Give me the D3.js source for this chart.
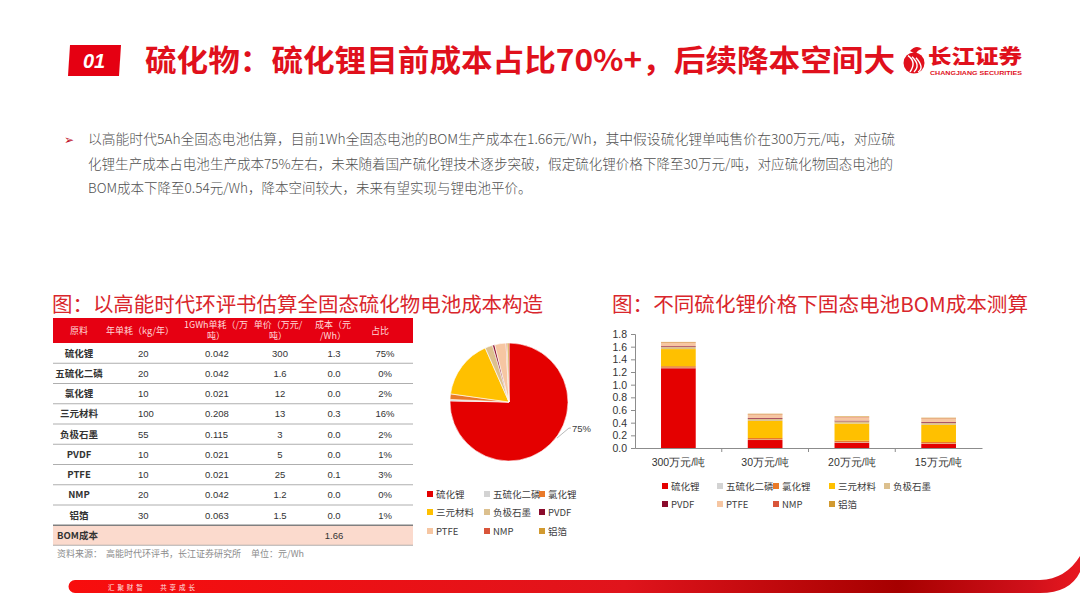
<!DOCTYPE html>
<html>
<head>
<meta charset="utf-8">
<script src="https://cdn.jsdelivr.net/npm/d3@7"></script>
<style>
  html, body { margin: 0; padding: 0; background: #fff; }
  svg { display: block; font-family: "Noto Sans CJK SC", "Noto Sans", sans-serif; }
</style>
</head>
<body>
<svg id="slide" width="1080" height="608"></svg>
<script>
// ---- data ----
const materials = ["硫化锂", "五硫化二磷", "氯化锂", "三元材料", "负极石墨", "PVDF", "PTFE", "NMP", "铝箔"];
const annualUse = ["20", "20", "10", "100", "55", "10", "10", "20", "30"];
const gwhUse = ["0.042", "0.042", "0.021", "0.208", "0.115", "0.021", "0.021", "0.042", "0.063"];
const unitPrice = ["300", "1.6", "12", "13", "3", "5", "25", "1.2", "1.5"];
const costWh = ["1.3", "0.0", "0.0", "0.3", "0.0", "0.0", "0.1", "0.0", "0.0"];
const shareLabel = ["75%", "0%", "2%", "16%", "2%", "1%", "3%", "0%", "1%"];
const bomTotal = "1.66";
const tableHeader = [["原料"], ["年单耗（kg/年）"], ["1GWh单耗（/万", "吨）"], ["单价（万元/", "吨）"], ["成本（元", "/Wh）"], ["占比"]];

// pie shares (%)
const pieShare = [75.3, 0.4, 1.5, 16.2, 2.1, 0.6, 3.1, 0.3, 0.5];

// stacked bars: BOM cost (元/Wh) by Li2S price
const priceCats = ["300万元/吨", "30万元/吨", "20万元/吨", "15万元/吨"];
const costLi2S = [1.26, 0.126, 0.084, 0.063];
const costP2S5 = [0.007, 0.007, 0.007, 0.007];
const costLiCl = [0.025, 0.025, 0.025, 0.025];
const costNCM = [0.27, 0.27, 0.27, 0.27];
const costGraphite = [0.035, 0.035, 0.035, 0.035];
const costPVDF = [0.011, 0.011, 0.011, 0.011];
const costPTFE = [0.053, 0.053, 0.053, 0.053];
const costNMP = [0.005, 0.005, 0.005, 0.005];
const costAlFoil = [0.009, 0.009, 0.009, 0.009];
const yTicks = [0, 0.2, 0.4, 0.6, 0.8, 1.0, 1.2, 1.4, 1.6, 1.8];

const bulletLines = [
  "以高能时代5Ah全固态电池估算，目前1Wh全固态电池的BOM生产成本在1.66元/Wh，其中假设硫化锂单吨售价在300万元/吨，对应硫",
  "化锂生产成本占电池生产成本75%左右，未来随着国产硫化锂技术逐步突破，假定硫化锂价格下降至30万元/吨，对应硫化物固态电池的",
  "BOM成本下降至0.54元/Wh，降本空间较大，未来有望实现与锂电池平价。"
];

const colors = ["#e40000", "#d3d3d3", "#ea7a28", "#ffc000", "#dcc08e", "#8a0b2c", "#f6c6a2", "#d9553a", "#d29a30"];
const RED = "#d9262c";

const svg = d3.select("#slide");
const defs = svg.append("defs");

// ---- header ----
svg.append("path")
  .attr("d", "M70,45 L121,45 L119,76 L68,76 Z")
  .attr("fill", "#e50012");
svg.append("text").attr("x", 94).attr("y", 68)
  .attr("text-anchor", "middle").attr("fill", "#fff")
  .attr("font-size", 20).attr("font-weight", 700).attr("font-style", "italic")
  .attr("font-family", "Liberation Sans, Arial, sans-serif")
  .text("01");
svg.append("text").attr("x", 145).attr("y", 71)
  .attr("fill", "#e0101c").attr("font-size", 30).attr("font-weight", 700)
  .attr("textLength", 750).attr("lengthAdjust", "spacingAndGlyphs")
  .text("硫化物：硫化锂目前成本占比70%+，后续降本空间大");

// logo
const logo = svg.append("g").attr("transform", "translate(914,60)");
logo.append("circle").attr("r", 10.5).attr("cy", 3).attr("fill", "#e0101c");
[[-6, 2], [-2, 5], [2, 8]].forEach(([a, b]) => {
  logo.append("path")
    .attr("d", `M${a},${-5 + b / 3} Q${a + 9},${b} ${a + 2},${12}`)
    .attr("fill", "none").attr("stroke", "#fff").attr("stroke-width", 1.4);
});
logo.append("path").attr("d", "M-4,-9 Q2,-16 8,-11 Q3,-10 2,-6 Z").attr("fill", "#e0101c");
svg.append("text").attr("x", 928).attr("y", 64)
  .attr("fill", "#e0101c").attr("font-size", 20).attr("font-weight", 900)
  .attr("textLength", 94).attr("lengthAdjust", "spacingAndGlyphs")
  .text("长江证券");
svg.append("text").attr("x", 930).attr("y", 74.5)
  .attr("fill", "#e0101c").attr("font-size", 6).attr("font-weight", 700)
  .attr("font-family", "Liberation Sans, Arial, sans-serif")
  .attr("textLength", 92).attr("lengthAdjust", "spacingAndGlyphs")
  .text("CHANGJIANG SECURITIES");

// ---- bullet paragraph ----
svg.append("text").attr("x", 64).attr("y", 144)
  .attr("fill", "#c0102a").attr("font-size", 12).text("➢");
const lineWidths = [807, 805, null];
bulletLines.forEach((t, i) => {
  const el = svg.append("text").attr("x", 88).attr("y", 144 + i * 24.5)
    .attr("fill", "#4f4f4f").attr("font-size", 13.5).attr("font-weight", 300)
    .text(t);
  if (lineWidths[i]) el.attr("textLength", lineWidths[i]).attr("lengthAdjust", "spacingAndGlyphs");
});

// ---- chart titles ----
svg.append("text").attr("x", 52).attr("y", 312)
  .attr("fill", RED).attr("font-size", 20.5)
  .attr("textLength", 491).attr("lengthAdjust", "spacingAndGlyphs")
  .text("图：以高能时代环评书估算全固态硫化物电池成本构造");
svg.append("text").attr("x", 612).attr("y", 312)
  .attr("fill", RED).attr("font-size", 20.5)
  .attr("textLength", 416).attr("lengthAdjust", "spacingAndGlyphs")
  .text("图：不同硫化锂价格下固态电池BOM成本测算");

// ---- table ----
const tbl = svg.append("g");
const tX0 = 53, tX1 = 413, headTop = 318, headBot = 343, rowH = 20.25;
const cols = [
  { x: 79, anchor: "middle", vals: materials, bold: true },
  { x: 138, anchor: "start", vals: annualUse },
  { x: 205, anchor: "start", vals: gwhUse },
  { x: 280, anchor: "middle", vals: unitPrice },
  { x: 334, anchor: "middle", vals: costWh },
  { x: 385, anchor: "middle", vals: shareLabel }
];
const headX = [79, 140, 216, 278, 333, 380];
tbl.append("rect").attr("x", tX0).attr("y", headTop).attr("width", tX1 - tX0).attr("height", headBot - headTop)
  .attr("fill", "#e60012");
tableHeader.forEach((lines, i) => {
  lines.forEach((ln, j) => {
    tbl.append("text").attr("x", headX[i])
      .attr("y", lines.length === 1 ? 334 : 328 + j * 11)
      .attr("text-anchor", "middle").attr("fill", "#ffdada").attr("font-size", 9)
      .text(ln);
  });
});
materials.forEach((m, r) => {
  const yTop = headBot + r * rowH;
  cols.forEach(c => {
    tbl.append("text").attr("x", c.x).attr("y", yTop + rowH / 2 + 3.5)
      .attr("text-anchor", c.anchor).attr("fill", "#333").attr("font-size", 9.5)
      .attr("font-weight", c.bold ? 700 : 400)
      .attr("font-family", c.bold ? null : "Liberation Sans, Arial, sans-serif")
      .text(c.vals[r]);
  });
  if (r < materials.length - 1) {
    tbl.append("line").attr("x1", tX0).attr("x2", tX1)
      .attr("y1", yTop + rowH).attr("y2", yTop + rowH)
      .attr("stroke", "#9a9a9a").attr("stroke-width", 0.8);
  }
});
const bomTop = headBot + materials.length * rowH;
tbl.append("rect").attr("x", tX0).attr("y", bomTop).attr("width", tX1 - tX0).attr("height", 20)
  .attr("fill", "#fbdacd");
tbl.append("line").attr("x1", tX0).attr("x2", tX1).attr("y1", bomTop).attr("y2", bomTop)
  .attr("stroke", "#808080").attr("stroke-width", 1.6);
tbl.append("line").attr("x1", tX0).attr("x2", tX1).attr("y1", bomTop + 20).attr("y2", bomTop + 20)
  .attr("stroke", "#a0a0a0").attr("stroke-width", 0.8);
tbl.append("text").attr("x", 57).attr("y", bomTop + 14).attr("fill", "#333")
  .attr("font-size", 9.5).attr("font-weight", 700).text("BOM成本");
tbl.append("text").attr("x", 334).attr("y", bomTop + 14).attr("fill", "#333")
  .attr("text-anchor", "middle").attr("font-size", 9.5)
  .attr("font-family", "Liberation Sans, Arial, sans-serif").text(bomTotal);
tbl.append("text").attr("x", 57).attr("y", 557).attr("fill", "#8c8c8c")
  .attr("font-size", 9).attr("xml:space", "preserve")
  .text("资料来源：  高能时代环评书，长江证券研究所     单位：元/Wh");

// ---- pie ----
const pieC = [509, 402], pieR = 59;
const pieG = svg.append("g").attr("transform", `translate(${pieC})`);
const arcs = d3.pie().sort(null).value(d => d)(pieShare);
const arcGen = d3.arc().innerRadius(0).outerRadius(pieR);
pieG.selectAll("path").data(arcs).join("path")
  .attr("d", arcGen)
  .attr("fill", (d, i) => colors[i])
  .attr("stroke", "#fff").attr("stroke-width", 0.6);
const p0 = d3.pointRadial(127 * Math.PI / 180, pieR + 1);
const p1 = [p0[0] + 12, p0[1] - 10];
pieG.append("polyline")
  .attr("points", [p0, p1, [p1[0] + 2, p1[1]]].map(p => p.join(",")).join(" "))
  .attr("fill", "none").attr("stroke", "#a6a6a6").attr("stroke-width", 0.8);
pieG.append("text").attr("x", p1[0] + 3).attr("y", p1[1] + 3.5)
  .attr("fill", "#404040").attr("font-size", 9.5)
  .attr("font-family", "Liberation Sans, Arial, sans-serif")
  .text(shareLabel[0]);

// pie legend
const pieLegX = [430, 487, 542], pieLegY = [494, 512, 531];
materials.forEach((m, i) => {
  const lx = pieLegX[i % 3], ly = pieLegY[Math.floor(i / 3)];
  svg.append("rect").attr("x", lx - 3).attr("y", ly - 3).attr("width", 6).attr("height", 6).attr("fill", colors[i]);
  svg.append("text").attr("x", lx + 6).attr("y", ly + 3.5).attr("fill", "#404040").attr("font-size", 9.5).text(m);
});

// ---- stacked bar chart ----
const series = [costLi2S, costP2S5, costLiCl, costNCM, costGraphite, costPVDF, costPTFE, costNMP, costAlFoil];
const rows = priceCats.map((c, j) => {
  const row = { cat: c };
  materials.forEach((m, i) => { row[m] = series[i][j]; });
  return row;
});
const x = d3.scaleBand().domain(priceCats).range([635, 982]).paddingInner(0.6).paddingOuter(0.3);
const y = d3.scaleLinear().domain([0, 1.8]).range([448, 334]);
const stacked = d3.stack().keys(materials)(rows);
const barG = svg.append("g");
barG.selectAll("g").data(stacked).join("g")
  .attr("fill", (d, i) => colors[i])
  .selectAll("rect").data(d => d).join("rect")
  .attr("x", d => x(d.data.cat))
  .attr("width", x.bandwidth())
  .attr("y", d => y(d[1]))
  .attr("height", d => Math.max(0, y(d[0]) - y(d[1])));

const yAxis = svg.append("g").attr("transform", "translate(635,0)")
  .call(d3.axisLeft(y).tickValues(yTicks).tickFormat(d3.format(".1f")).tickSize(4).tickPadding(4));
const xAxis = svg.append("g").attr("transform", "translate(0,448)")
  .call(d3.axisBottom(x).tickSize(0).tickPadding(11));
[yAxis, xAxis].forEach(a => {
  a.select(".domain").attr("stroke", "#8c8c8c");
  a.selectAll(".tick line").attr("stroke", "#8c8c8c");
  a.selectAll("text").attr("fill", "#333").attr("font-size", 10.5);
});
yAxis.selectAll("text").attr("font-family", "Liberation Sans, Arial, sans-serif");
d3.range(1, priceCats.length).forEach(k => {
  const bx = x.range()[0] + k * x.step();
  xAxis.append("line").attr("x1", bx).attr("x2", bx).attr("y1", 0).attr("y2", 4)
    .attr("stroke", "#8c8c8c");
});

// bar legend
const barLegX = [665, 720, 776, 832, 887], barLegY = [486, 504];
materials.forEach((m, i) => {
  const lx = barLegX[i % 5], ly = barLegY[Math.floor(i / 5)];
  svg.append("rect").attr("x", lx - 3).attr("y", ly - 3).attr("width", 6).attr("height", 6).attr("fill", colors[i]);
  svg.append("text").attr("x", lx + 6).attr("y", ly + 3.5).attr("fill", "#404040").attr("font-size", 9.5).text(m);
});

// ---- footer band ----
const grad = defs.append("linearGradient").attr("id", "footGrad").attr("x1", 0).attr("x2", 1).attr("y1", 0).attr("y2", 0);
[["0%", "#f80d0d"], ["55%", "#e0141c"], ["82%", "#a60000"], ["95%", "#d0101a"], ["100%", "#e81820"]]
  .forEach(([o, c]) => grad.append("stop").attr("offset", o).attr("stop-color", c));
svg.append("path")
  .attr("d", "M75,580 L1040,580 Q1066,579 1080,556 L1080,572 Q1070,593 1040,593 L75,593 A6.5,6.5 0 0 1 75,580 Z")
  .attr("fill", "url(#footGrad)");
svg.append("text").attr("x", 108).attr("y", 589.5).attr("fill", "#ffe6e6")
  .attr("font-size", 6.5).attr("xml:space", "preserve")
  .text("汇  聚  财  智            共  享  成  长");
</script>
</body>
</html>
